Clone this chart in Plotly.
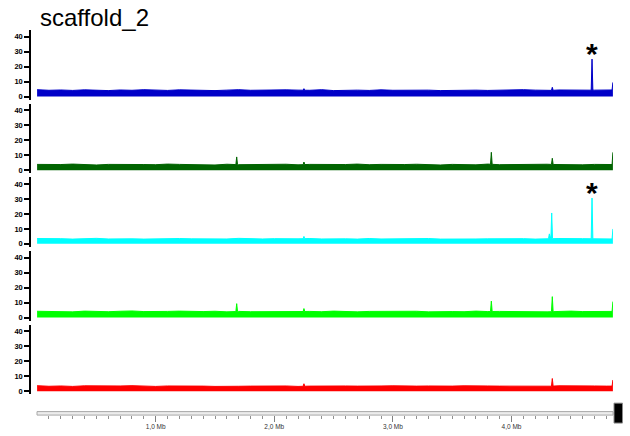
import numpy as np
import plotly.graph_objects as go

# ---------------------------------------------------------------- data
TITLE = "scaffold_2"
SCAFFOLD_END_MB = 4.855                      # scaffold length (Mb)
BIN_MB = [round(i * 0.1, 1) for i in range(49)]   # 0.1 Mb coverage bins

TRACK_COLORS = ["#0000c8", "#006400", "#00ffff", "#00ff00", "#ff0000"]

# mean read depth per 0.1 Mb bin
BASE_BLUE = [4.6, 4.2, 4.4, 4.1, 4.5, 4.3, 4.0, 4.4, 4.2, 4.6,
             4.3, 4.1, 4.5, 4.2, 4.4, 4.0, 4.3, 4.6, 4.2, 4.4,
             4.1, 4.5, 4.3, 4.2, 4.6, 4.0, 4.4, 4.3, 4.1, 4.5,
             4.2, 4.4, 4.6, 4.3, 4.0, 4.2, 4.5, 4.3, 4.1, 4.4,
             4.2, 4.6, 4.3, 4.0, 4.4, 4.5, 4.2, 4.3, 4.4]
BASE_DKGREEN = [3.9, 3.6, 3.8, 4.1, 3.7, 3.5, 3.9, 4.0, 3.6, 3.8,
                3.7, 4.1, 3.9, 3.6, 3.8, 3.5, 4.0, 3.7, 3.9, 3.6,
                3.8, 4.0, 3.6, 3.9, 3.7, 3.5, 3.8, 4.1, 3.7, 3.9,
                3.6, 3.8, 4.0, 3.7, 3.5, 3.9, 3.8, 3.6, 4.1, 3.7,
                3.9, 3.6, 3.8, 4.0, 3.7, 3.8, 3.6, 3.9, 3.8]
BASE_CYAN = [3.6, 3.3, 3.5, 3.2, 3.4, 3.7, 3.3, 3.5, 3.4, 3.2,
             3.5, 3.3, 3.6, 3.4, 3.2, 3.5, 3.3, 3.7, 3.4, 3.3,
             3.5, 3.2, 3.4, 3.6, 3.3, 3.5, 3.4, 3.2, 3.6, 3.3,
             3.4, 3.5, 3.3, 3.6, 3.2, 3.4, 3.5, 3.3, 3.4, 3.6,
             3.3, 3.5, 3.2, 3.4, 3.6, 3.3, 3.5, 3.4, 3.3]
BASE_LIME = [4.2, 3.9, 4.1, 3.8, 4.3, 4.0, 3.9, 4.2, 4.4, 4.0,
             3.8, 4.1, 4.3, 3.9, 4.0, 4.2, 3.8, 4.1, 3.9, 4.0,
             4.2, 3.8, 4.0, 4.1, 3.9, 4.3, 4.0, 3.8, 4.1, 4.2,
             3.9, 4.0, 4.2, 3.8, 4.1, 4.0, 3.9, 4.3, 4.0, 4.1,
             3.9, 4.2, 4.0, 3.8, 4.1, 4.3, 4.0, 3.9, 4.1]
BASE_RED = [3.7, 3.3, 3.5, 3.2, 3.6, 3.4, 3.3, 3.5, 3.7, 3.4,
            3.2, 3.5, 3.3, 3.6, 3.4, 3.2, 3.5, 3.3, 3.4, 3.6,
            3.3, 3.5, 3.2, 3.4, 3.6, 3.3, 3.5, 3.4, 3.2, 3.5,
            3.6, 3.3, 3.4, 3.5, 3.2, 3.4, 3.6, 3.3, 3.5, 3.4,
            3.3, 3.5, 3.4, 3.2, 3.6, 3.4, 3.3, 3.5, 3.4]

# narrow coverage peaks: position (Mb) and depth
PEAK_POS_BLUE = [2.25, 4.344, 4.679, 4.855]
PEAK_H_BLUE = [5.3, 6.2, 25.1, 9.5]
PEAK_POS_DKGREEN = [1.683, 2.25, 3.83, 4.344, 4.855]
PEAK_H_DKGREEN = [8.9, 5.5, 12.0, 8.0, 12.0]
PEAK_POS_CYAN = [2.25, 4.319, 4.339, 4.679, 4.855]
PEAK_H_CYAN = [5.0, 6.7, 20.7, 30.7, 10.0]
PEAK_POS_LIME = [1.683, 2.25, 3.83, 4.344, 4.855]
PEAK_H_LIME = [9.3, 6.0, 11.0, 14.0, 10.7]
PEAK_POS_RED = [2.25, 4.344, 4.855]
PEAK_H_RED = [5.0, 8.5, 7.5]

# peaks flagged with an asterisk (track index, position Mb, peak depth)
MARKED_TRACKS = [0, 2]
MARKED_POS_MB = [4.679, 4.679]
MARKED_DEPTH = [25.1, 30.7]

Y_TICKS = [0, 10, 20, 30, 40]
RULER_MAJOR = [1, 2, 3, 4]
RULER_LABELS = ["1,0 Mb", "2,0 Mb", "3,0 Mb", "4,0 Mb"]

TRACKS = [
    (BASE_BLUE, PEAK_POS_BLUE, PEAK_H_BLUE),
    (BASE_DKGREEN, PEAK_POS_DKGREEN, PEAK_H_DKGREEN),
    (BASE_CYAN, PEAK_POS_CYAN, PEAK_H_CYAN),
    (BASE_LIME, PEAK_POS_LIME, PEAK_H_LIME),
    (BASE_RED, PEAK_POS_RED, PEAK_H_RED),
]

# ---------------------------------------------------------------- geometry
W, H = 630, 436
PEAK_HALF_W = 0.007


def px(xp):
    return xp / W


def py(yp):
    return 1 - yp / H


def track_xy(base, pos, heights):
    """Merge binned depth with narrow peaks into one outline."""
    assert len(base) == len(BIN_MB)
    bx = list(BIN_MB) + [SCAFFOLD_END_MB]
    by = list(base) + [base[-1]]
    windows = [(max(p - PEAK_HALF_W, 0), min(p + PEAK_HALF_W, SCAFFOLD_END_MB))
               for p in pos]
    pts = [(x, y) for x, y in zip(bx, by)
           if not any(lo <= x <= hi for lo, hi in windows)]
    for (lo, hi), p, h in zip(windows, pos, heights):
        pts.append((lo, float(np.interp(lo, bx, by))))
        pts.append((p, h))
        if hi > p:
            pts.append((hi, float(np.interp(hi, bx, by))))
    pts.sort(key=lambda t: t[0])
    return [t[0] for t in pts], [t[1] for t in pts]


fig = go.Figure()

X_RANGE = [(31 - 37.1) / 118.6, (613 - 37.1) / 118.6]
Y_RANGE = [-2, 44.667]
FONT = "Liberation Sans, Arial, sans-serif"

layout_axes = {}
for k, ((base, pos, hts), color) in enumerate(zip(TRACKS, TRACK_COLORS)):
    n = "" if k == 0 else str(k + 1)
    xs, ys = track_xy(base, pos, hts)
    fig.add_trace(go.Scatter(
        x=xs, y=ys, mode="lines", fill="tozeroy",
        line=dict(color=color, width=1), fillcolor=color,
        xaxis="x" + n, yaxis="y" + n, showlegend=False, hoverinfo="skip",
    ))
    top, bot = 30 + 74 * k, 100 + 74 * k
    layout_axes["yaxis" + n] = dict(
        domain=[py(bot), py(top)], range=Y_RANGE, anchor="x" + n,
        tickvals=Y_TICKS, ticks="outside", ticklen=5, tickwidth=1.5,
        tickcolor="black", showline=True, linecolor="black", linewidth=1.5,
        showgrid=False, zeroline=False,
        tickfont=dict(family=FONT, size=7.5, color="black", weight="bold"),
    )
    xa = dict(domain=[px(31), px(613)], range=X_RANGE, showgrid=False,
              zeroline=False, anchor="y" + n)
    if k < 4:
        xa.update(visible=False)
    else:
        # genome ruler below the tracks
        xa.update(
            anchor="free", position=py(416.5), showline=False,
            tickvals=RULER_MAJOR, ticktext=RULER_LABELS, ticks="outside",
            ticklen=6, tickwidth=1, tickcolor="#808080",
            tickfont=dict(family=FONT, size=6.5, color="#333333"),
            minor=dict(tickmode="array",
                       tickvals=[round(i * 0.1, 1) for i in range(1, 49)],
                       ticks="outside", ticklen=3, tickwidth=1,
                       tickcolor="#909090"),
        )
    layout_axes["xaxis" + n] = xa

annotations = [dict(
    text=TITLE, xref="paper", yref="paper", x=px(38), y=py(18),
    xanchor="left", yanchor="middle", showarrow=False,
    font=dict(family=FONT, size=24, color="black"),
)]
for trk, pos, depth in zip(MARKED_TRACKS, MARKED_POS_MB, MARKED_DEPTH):
    n = "" if trk == 0 else str(trk + 1)
    annotations.append(dict(
        text="*", xref="x" + n, yref="y" + n, x=pos, y=depth + 3.5,
        xanchor="center", yanchor="middle", showarrow=False,
        font=dict(family=FONT, size=30, color="black", weight="bold"),
    ))

shapes = [
    dict(type="rect", xref="paper", yref="paper",
         x0=px(37), x1=px(613), y0=py(417), y1=py(413.5),
         fillcolor="#ececec", line=dict(color="#a8a8a8", width=1)),
    dict(type="rect", xref="paper", yref="paper",
         x0=px(614), x1=px(622.5), y0=py(425), y1=py(405),
         fillcolor="black", line=dict(color="#8a8a8a", width=1)),
]

fig.update_layout(
    width=W, height=H, margin=dict(l=0, r=0, t=0, b=0),
    paper_bgcolor="white", plot_bgcolor="white",
    annotations=annotations, shapes=shapes, **layout_axes,
)

fig.write_html("out.html")
